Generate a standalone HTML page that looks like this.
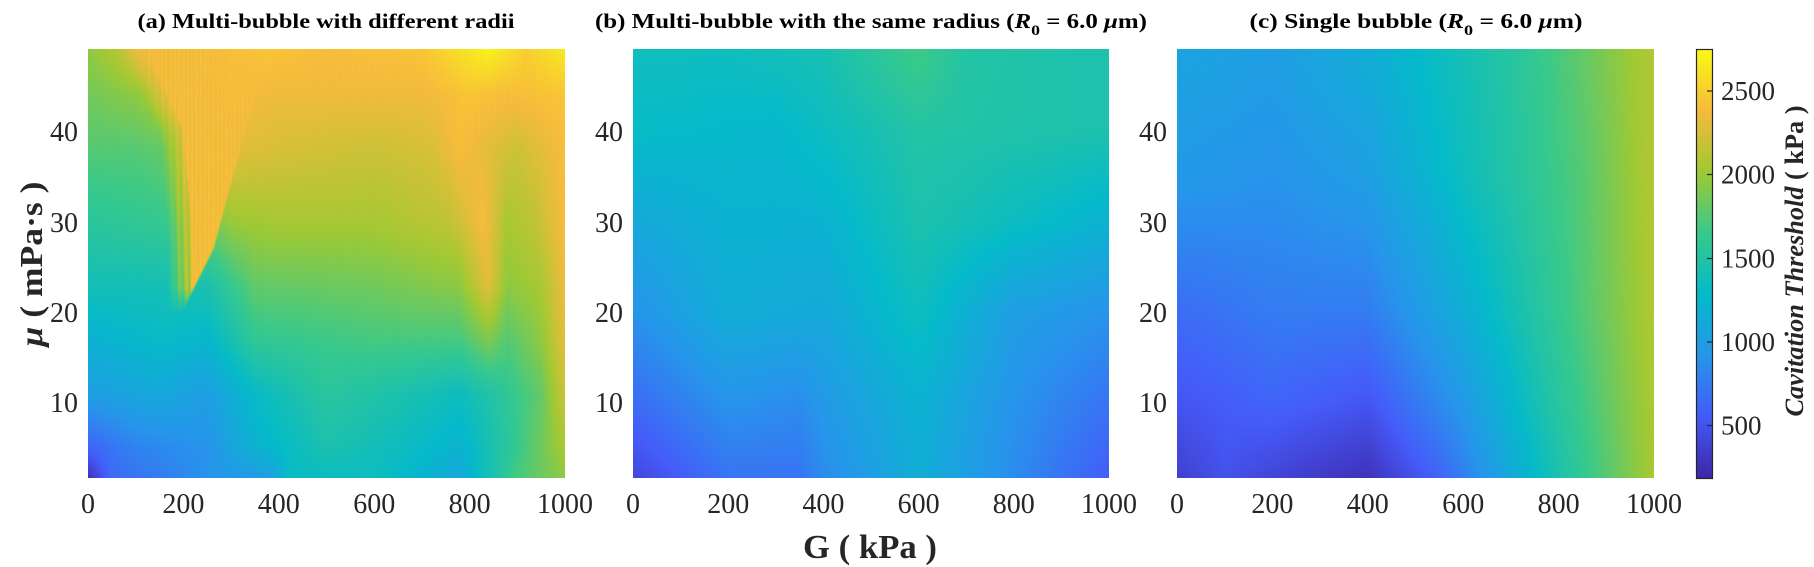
<!DOCTYPE html>
<html><head><meta charset="utf-8">
<style>
html,body{margin:0;padding:0;background:#fff;width:1814px;height:567px;overflow:hidden}
canvas{position:absolute}
svg{position:absolute;left:0;top:0}
</style></head><body>
<canvas id="ca" style="left:88px;top:49px" width="477" height="429"></canvas>
<canvas id="cb" style="left:633px;top:49px" width="476" height="429"></canvas>
<canvas id="cc" style="left:1177px;top:49px" width="477" height="429"></canvas>
<canvas id="cbar" style="left:1696px;top:49px" width="16" height="429"></canvas>
<svg width="1814" height="567" xmlns="http://www.w3.org/2000/svg" font-family="Liberation Serif, serif">
<rect x="1696.5" y="49.5" width="16" height="429" fill="none" stroke="#262626" stroke-width="1.2"/>
<g stroke="#262626" stroke-width="1.2">
<line x1="1707" x2="1712" y1="91" y2="91"/><line x1="1707" x2="1712" y1="174.5" y2="174.5"/>
<line x1="1707" x2="1712" y1="258.5" y2="258.5"/><line x1="1707" x2="1712" y1="342" y2="342"/>
<line x1="1707" x2="1712" y1="425.5" y2="425.5"/>
</g>
<g font-size="27" fill="#262626">
<text x="1721" y="100">2500</text><text x="1721" y="183.5">2000</text><text x="1721" y="267.5">1500</text>
<text x="1721" y="351">1000</text><text x="1721" y="434.5">500</text>
</g>
<g font-size="28" fill="#262626" text-anchor="end">
<text x="78" y="141">40</text><text x="78" y="232">30</text><text x="78" y="322">20</text><text x="78" y="412">10</text>
<text x="623" y="141">40</text><text x="623" y="232">30</text><text x="623" y="322">20</text><text x="623" y="412">10</text>
<text x="1167" y="141">40</text><text x="1167" y="232">30</text><text x="1167" y="322">20</text><text x="1167" y="412">10</text>
</g>
<g font-size="28" fill="#262626" text-anchor="middle" id="xt"></g>
<g font-weight="bold" font-size="21" fill="#000" text-anchor="middle">
<text x="326" y="28" textLength="377" lengthAdjust="spacingAndGlyphs">(a)  Multi-bubble with different radii</text>
<text x="871" y="28" textLength="552" lengthAdjust="spacingAndGlyphs">(b)  Multi-bubble with the same radius  (<tspan font-style="italic">R</tspan><tspan font-size="15" dy="7">0</tspan><tspan dy="-7"> = 6.0 </tspan><tspan font-style="italic">μ</tspan>m)</text>
<text x="1416" y="28" textLength="333" lengthAdjust="spacingAndGlyphs">(c)  Single bubble  (<tspan font-style="italic">R</tspan><tspan font-size="15" dy="7">0</tspan><tspan dy="-7"> = 6.0 </tspan><tspan font-style="italic">μ</tspan>m)</text>
</g>
<text x="870" y="558" font-weight="bold" font-size="34" text-anchor="middle" fill="#262626" textLength="134" lengthAdjust="spacingAndGlyphs">G ( kPa )</text>
<text transform="translate(42,264) rotate(-90)" font-weight="bold" font-size="32" text-anchor="middle" fill="#262626" textLength="165" lengthAdjust="spacingAndGlyphs"><tspan font-style="italic">μ</tspan> ( mPa·s )</text>
<text transform="translate(1803,261) rotate(-90)" font-weight="bold" font-size="26" text-anchor="middle" fill="#262626" textLength="311" lengthAdjust="spacingAndGlyphs"><tspan font-style="italic">Cavitation Threshold</tspan> ( kPa )</text>
</svg>
<script>
var xt=document.getElementById('xt'),NS='http://www.w3.org/2000/svg';
[[88,565],[633,1109],[1177,1654]].forEach(function(p){for(var i=0;i<=5;i++){var t=document.createElementNS(NS,'text');t.setAttribute('x',p[0]+(p[1]-p[0])*i/5);t.setAttribute('y',513);t.textContent=String(i*200);xt.appendChild(t);}});
var P=[[0.2422,0.1504,0.6603],[0.27,0.36,0.98],[0.15,0.59,0.92],[0.02,0.73,0.79],[0.22,0.79,0.55],[0.63,0.79,0.2],[0.97,0.73,0.24],[0.977,0.984,0.08]];
function col(v){var t=(v-178)/(2751-178);t=Math.max(0,Math.min(1,t))*7;var i=Math.min(6,Math.floor(t)),f=t-i;var a=P[i],b=P[i+1];return [255*(a[0]+(b[0]-a[0])*f),255*(a[1]+(b[1]-a[1])*f),255*(a[2]+(b[2]-a[2])*f)];}
function li(pts,x){if(x<=pts[0][0])return pts[0][1];for(var i=1;i<pts.length;i++){if(x<=pts[i][0]){var f=(x-pts[i-1][0])/(pts[i][0]-pts[i-1][0]);return pts[i-1][1]+(pts[i][1]-pts[i-1][1])*f;}}return pts[pts.length-1][1];}
function tab(rows,x,m){var vals=rows.map(function(r){return [r[0],li(r[1],x)];});vals.sort(function(a,b){return a[0]-b[0];});return li(vals,m);}
var A=[[49,[[0,1950],[60,2100],[100,2300],[200,2350],[300,2400],[370,2450],[500,2400],[700,2450],[840,2700],[920,2500],[1000,2650]]],
[44,[[0,1850],[100,1950],[200,2200],[300,2400],[400,2350],[550,2350],[700,2350],[800,2450],[880,2400],[1000,2450]]],
[38,[[0,1750],[100,1750],[200,1850],[300,2300],[400,2250],[600,2200],[720,2250],[780,2400],[840,2300],[900,2200],[1000,2400]]],
[30,[[0,1550],[100,1600],[200,1650],[300,2000],[400,2050],[600,2050],[760,2150],[830,2400],[880,2050],[940,2150],[1000,2400]]],
[23,[[0,1400],[150,1400],[250,1450],[350,1800],[600,1850],[780,1950],[840,2300],[880,1950],[950,2050],[1000,2350]]],
[17,[[0,1200],[150,1300],[250,1250],[350,1600],[600,1700],[780,1700],[840,1900],[880,1750],[950,1950],[1000,2300]]],
[11,[[0,1000],[150,1100],[250,1000],[350,1300],[500,1550],[650,1450],[780,1350],[850,1500],[950,1800],[1000,2200]]],
[5,[[0,600],[100,800],[250,900],[350,1200],[500,1450],[650,1350],[780,1200],[880,1550],[1000,2050]]],
[1.7,[[0,250],[50,650],[150,750],[250,900],[380,1000],[420,1300],[600,1350],[780,1100],[900,1700],[1000,1950]]]];
var B=[[49,[[0,1350],[200,1350],[400,1420],[600,1680],[700,1500],[1000,1450]]],
[40,[[0,1300],[300,1250],[600,1500],[1000,1450]]],
[30,[[0,1100],[200,1200],[400,1200],[600,1450],[700,1400],[1000,1200]]],
[20,[[0,900],[200,1150],[400,1100],[600,1350],[800,1000],[1000,900]]],
[10,[[0,650],[200,900],[350,850],[400,950],[600,1200],[800,900],[1000,700]]],
[1.7,[[0,400],[200,700],[350,700],[400,850],[600,1150],[800,850],[1000,550]]]];
var C=[[49,[[0,1050],[200,1000],[400,1150],[600,1400],[700,1520],[850,1800],[1000,2100]]],
[35,[[0,950],[200,900],[400,1000],[600,1350],[700,1500],[850,1750],[1000,2100]]],
[20,[[0,650],[200,750],[400,750],[600,1150],[750,1500],[900,1850],[1000,2080]]],
[10,[[0,500],[200,600],[400,500],[600,950],[750,1400],[900,1800],[1000,2060]]],
[1.7,[[0,350],[100,480],[250,350],[400,260],[550,600],[700,1100],[800,1450],[1000,2050]]]];
var lb=[[19,195],[30,195],[40,180],[49,100]],rb=[[19.7,196],[27,265],[38,321],[49,380]];
function fa(x,m){var v=tab(A,x,m);if(m>19.7){var l=li(lb,m),r=li(rb,m);if(x>l-30&&x<r){var e=Math.max(0,Math.min(1,(x-l+30)/50,(r-x)/4));var s=0.5+0.5*Math.sin(x*0.45+m*0.15);e*=(x<l+20)?(0.55+0.45*s):1;e*=Math.min(1,(m-19.7)/3);var w=Math.max(v,2380+40*Math.sin(x*0.7));v=v+(w-v)*e;}}
 v+=40*Math.sin(x*1.3+m*0.2)*(m>10?1:0.5);return v;}
function fb(x,m){return tab(B,x,m);}
function fc(x,m){return tab(C,x,m);}
function draw(id,f){var c=document.getElementById(id),g=c.getContext('2d'),W=c.width,H=c.height,im=g.createImageData(W,H),d=im.data;
 for(var j=0;j<H;j++){var m=49-(j/(H-1))*47.3;for(var i=0;i<W;i++){var x=i/(W-1)*1000;var cc=col(f(x,m));var k=(j*W+i)*4;d[k]=cc[0];d[k+1]=cc[1];d[k+2]=cc[2];d[k+3]=255;}}g.putImageData(im,0,0);}
draw('ca',fa);draw('cb',fb);draw('cc',fc);
(function(){var c=document.getElementById('cbar'),g=c.getContext('2d');for(var j=0;j<c.height;j++){var v=2751-(j/(c.height-1))*(2751-178);var cc=col(v);g.fillStyle='rgb('+(cc[0]|0)+','+(cc[1]|0)+','+(cc[2]|0)+')';g.fillRect(0,j,16,1);}})();
</script>
</body></html>
